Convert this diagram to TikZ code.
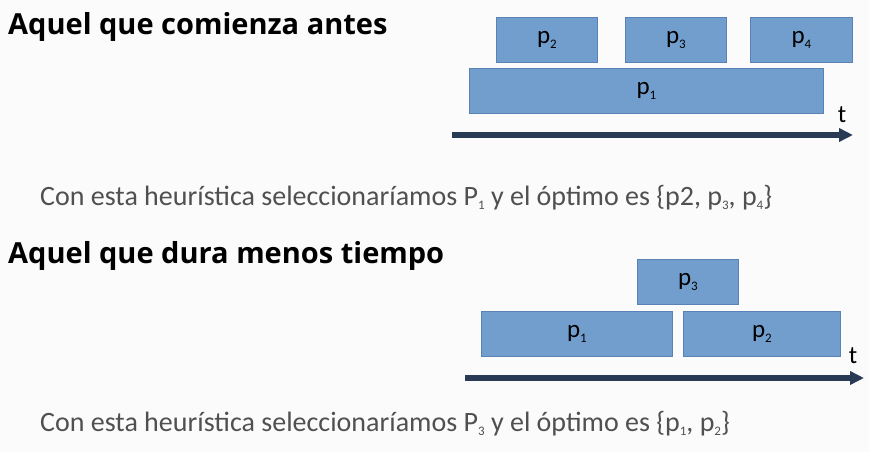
\documentclass[tikz,border=0pt]{standalone}
\usepackage{fontspec}
\setmainfont{Carlito}
\newfontfamily\titlefont{Open Sans}
\usepackage{xcolor}
\usetikzlibrary{arrows.meta,positioning}

\definecolor{boxblue}{RGB}{114,158,206}
\definecolor{boxedge}{RGB}{90,130,182}
\definecolor{axisnavy}{RGB}{40,58,84}
\definecolor{bodygray}{RGB}{80,80,80}

\newcommand{\psub}[1]{\raisebox{-0.35ex}{\fontsize{13}{13}\selectfont #1}}

\begin{document}
\begin{tikzpicture}[
    x=1pt, y=-1pt,
    box/.style={draw=boxedge, line width=0.8pt, fill=boxblue, anchor=north west,
      inner sep=0pt, minimum height=45pt, font=\fontsize{25}{25}\selectfont},
    timeline/.style={draw=axisnavy, line width=6pt,
      -{Triangle[length=14pt,width=13pt]}},
    heading/.style={anchor=base west, inner sep=0pt,
      font=\titlefont\bfseries\fontsize{29}{31}\selectfont},
    remark/.style={anchor=base west, inner sep=0pt, text=bodygray,
      font=\fontsize{28}{30}\selectfont},
    tick/.style={inner sep=0pt, font=\fontsize{25}{25}\selectfont},
  ]
  \fill[white!97!gray] (0,0) rectangle (869,452);

  % heuristica 1: la que comienza antes
  \node[heading] (h1) at (8,35) {Aquel que comienza antes};
  \node[box, minimum width=101pt] (a2) at (496,17) {p\psub{2}};
  \node[box, minimum width=101pt] (a3) at (625,17) {p\psub{3}};
  \node[box, minimum width=102pt] (a4) at (750,17) {p\psub{4}};
  \node[box, minimum width=354pt] (a1) at (469,68) {p\psub{1}};
  \coordinate (s1) at (452,135);
  \coordinate (e1) at (853,135);
  \draw[timeline] (s1) -- (e1);
  \node[tick] (t1) at (842,115) {t};
  \node[remark] (r1) at (40,205)
    {Con esta heurística seleccionaríamos P\psub{1} y el óptimo es \{p2, p\psub{3}, p\psub{4}\}};

  % heuristica 2: la que dura menos tiempo
  \node[heading] (h2) at (8,263) {Aquel que dura menos tiempo};
  \node[box, minimum width=101pt] (b3) at (637,259) {p\psub{3}};
  \node[box, minimum width=191pt] (b1) at (481,311) {p\psub{1}};
  \node[box, minimum width=157pt] (b2) at (683,311) {p\psub{2}};
  \coordinate (s2) at (465,378);
  \coordinate (e2) at (864,378);
  \draw[timeline] (s2) -- (e2);
  \node[tick] (t2) at (853,356) {t};
  \node[remark] (r2) at (40,431)
    {Con esta heurística seleccionaríamos P\psub{3} y el óptimo es \{p\psub{1}, p\psub{2}\}};
\end{tikzpicture}
\end{document}
